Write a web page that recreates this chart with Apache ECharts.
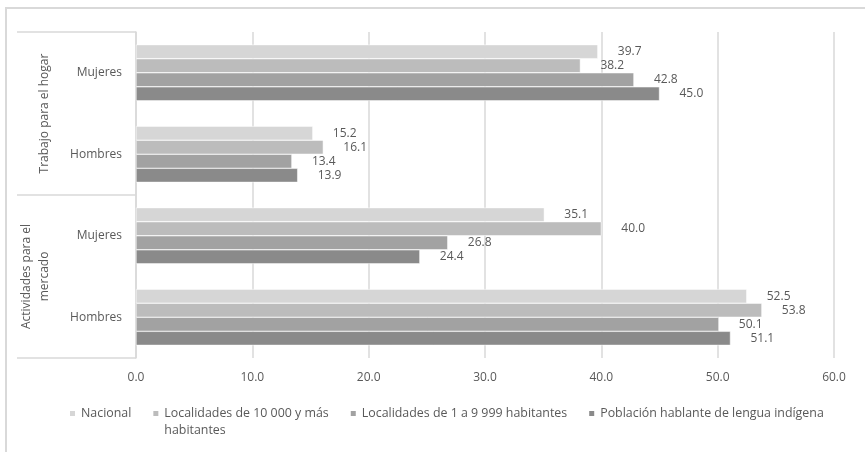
<!DOCTYPE html>
<html>
<head>
<meta charset="utf-8">
<script src="https://cdn.jsdelivr.net/npm/echarts@6/dist/echarts.min.js"></script>
<style>
html,body{margin:0;padding:0;background:#fff;}
#chart{width:865px;height:452px;}
</style>
</head>
<body>
<div id="chart"></div>
<script>
var subCategories = ['Mujeres', 'Hombres', 'Mujeres', 'Hombres'];
var groupCategories = ['Trabajo para el hogar', 'Actividades para el mercado'];
var seriesNames = ['Nacional', 'Localidades de 10 000 y más habitantes', 'Localidades de 1 a 9 999 habitantes', 'Población hablante de lengua indígena'];
var nacional = [39.7, 15.2, 35.1, 52.5];
var localidades10000 = [38.2, 16.1, 40.0, 53.8];
var localidades1a9999 = [42.8, 13.4, 26.8, 50.1];
var indigena = [45.0, 13.9, 24.4, 51.1];
var xTicks = [0, 10, 20, 30, 40, 50, 60];

var colors = ['#d6d6d6', '#bcbcbc', '#a2a2a2', '#8a8a8a'];
var seriesData = [nacional, localidades10000, localidades1a9999, indigena];
var font = '"Open Sans", "Noto Sans", sans-serif';
var txt = '#595959';

var chart = echarts.init(document.getElementById('chart'), null, {renderer: 'canvas'});
var series = seriesNames.map(function (n, i) {
  return {
    name: n,
    type: 'bar',
    yAxisIndex: 0,
    data: seriesData[i],
    barGap: '0%',
    barCategoryGap: '31%',
    itemStyle: {color: colors[i], borderColor: '#ffffff', borderWidth: 0.5},
    label: {
      show: true, position: 'right', distance: 20,
      color: txt, fontSize: 12, fontFamily: font,
      formatter: function (p) { return p.value.toFixed(1); }
    },
    emphasis: {disabled: true}
  };
});

chart.setOption({
  animation: false,
  textStyle: {fontFamily: font},
  graphic: [{
    type: 'rect', z: -10,
    shape: {x: 6, y: 8, width: 900, height: 500},
    style: {fill: 'none', stroke: '#d9d9d9', lineWidth: 2}
  }],
  grid: {left: 136, right: 31, top: 32, bottom: 94, containLabel: false},
  legend: {
    data: seriesNames,
    left: 68, top: 388, padding: 0,
    icon: 'rect', itemWidth: 7, itemHeight: 7, itemGap: 20,
    textStyle: {color: txt, fontSize: 12.4, fontFamily: font, lineHeight: 17},
    formatter: function (n) {
      return n === 'Localidades de 10 000 y más habitantes' ? ' \nLocalidades de 10 000 y más\nhabitantes' : n;
    },
    selectedMode: false
  },
  xAxis: {
    type: 'value', min: xTicks[0], max: xTicks[xTicks.length - 1], interval: 10,
    axisLine: {show: false}, axisTick: {show: false},
    splitLine: {lineStyle: {color: '#d9d9d9', width: 1.5}},
    axisLabel: {color: txt, fontSize: 12, fontFamily: font, margin: 14,
      formatter: function (v) { return v.toFixed(1); }}
  },
  yAxis: [{
    type: 'category', data: subCategories, inverse: true,
    axisLine: {show: true, lineStyle: {color: '#d9d9d9', width: 1.5}},
    axisTick: {show: false},
    axisLabel: {color: txt, fontSize: 12, fontFamily: font, margin: 14}
  }, {
    type: 'category', data: groupCategories, inverse: true, position: 'left', offset: 0,
    axisLine: {show: false},
    axisTick: {show: true, length: 119, lineStyle: {color: '#d9d9d9', width: 1.5}},
    axisLabel: {
      color: txt, fontSize: 12, fontFamily: font, rotate: 90, margin: 82, lineHeight: 18,
      formatter: function (v) { return v === 'Actividades para el mercado' ? 'Actividades para el\nmercado' : v; }
    }
  }],
  series: series
});
</script>
</body>
</html>
